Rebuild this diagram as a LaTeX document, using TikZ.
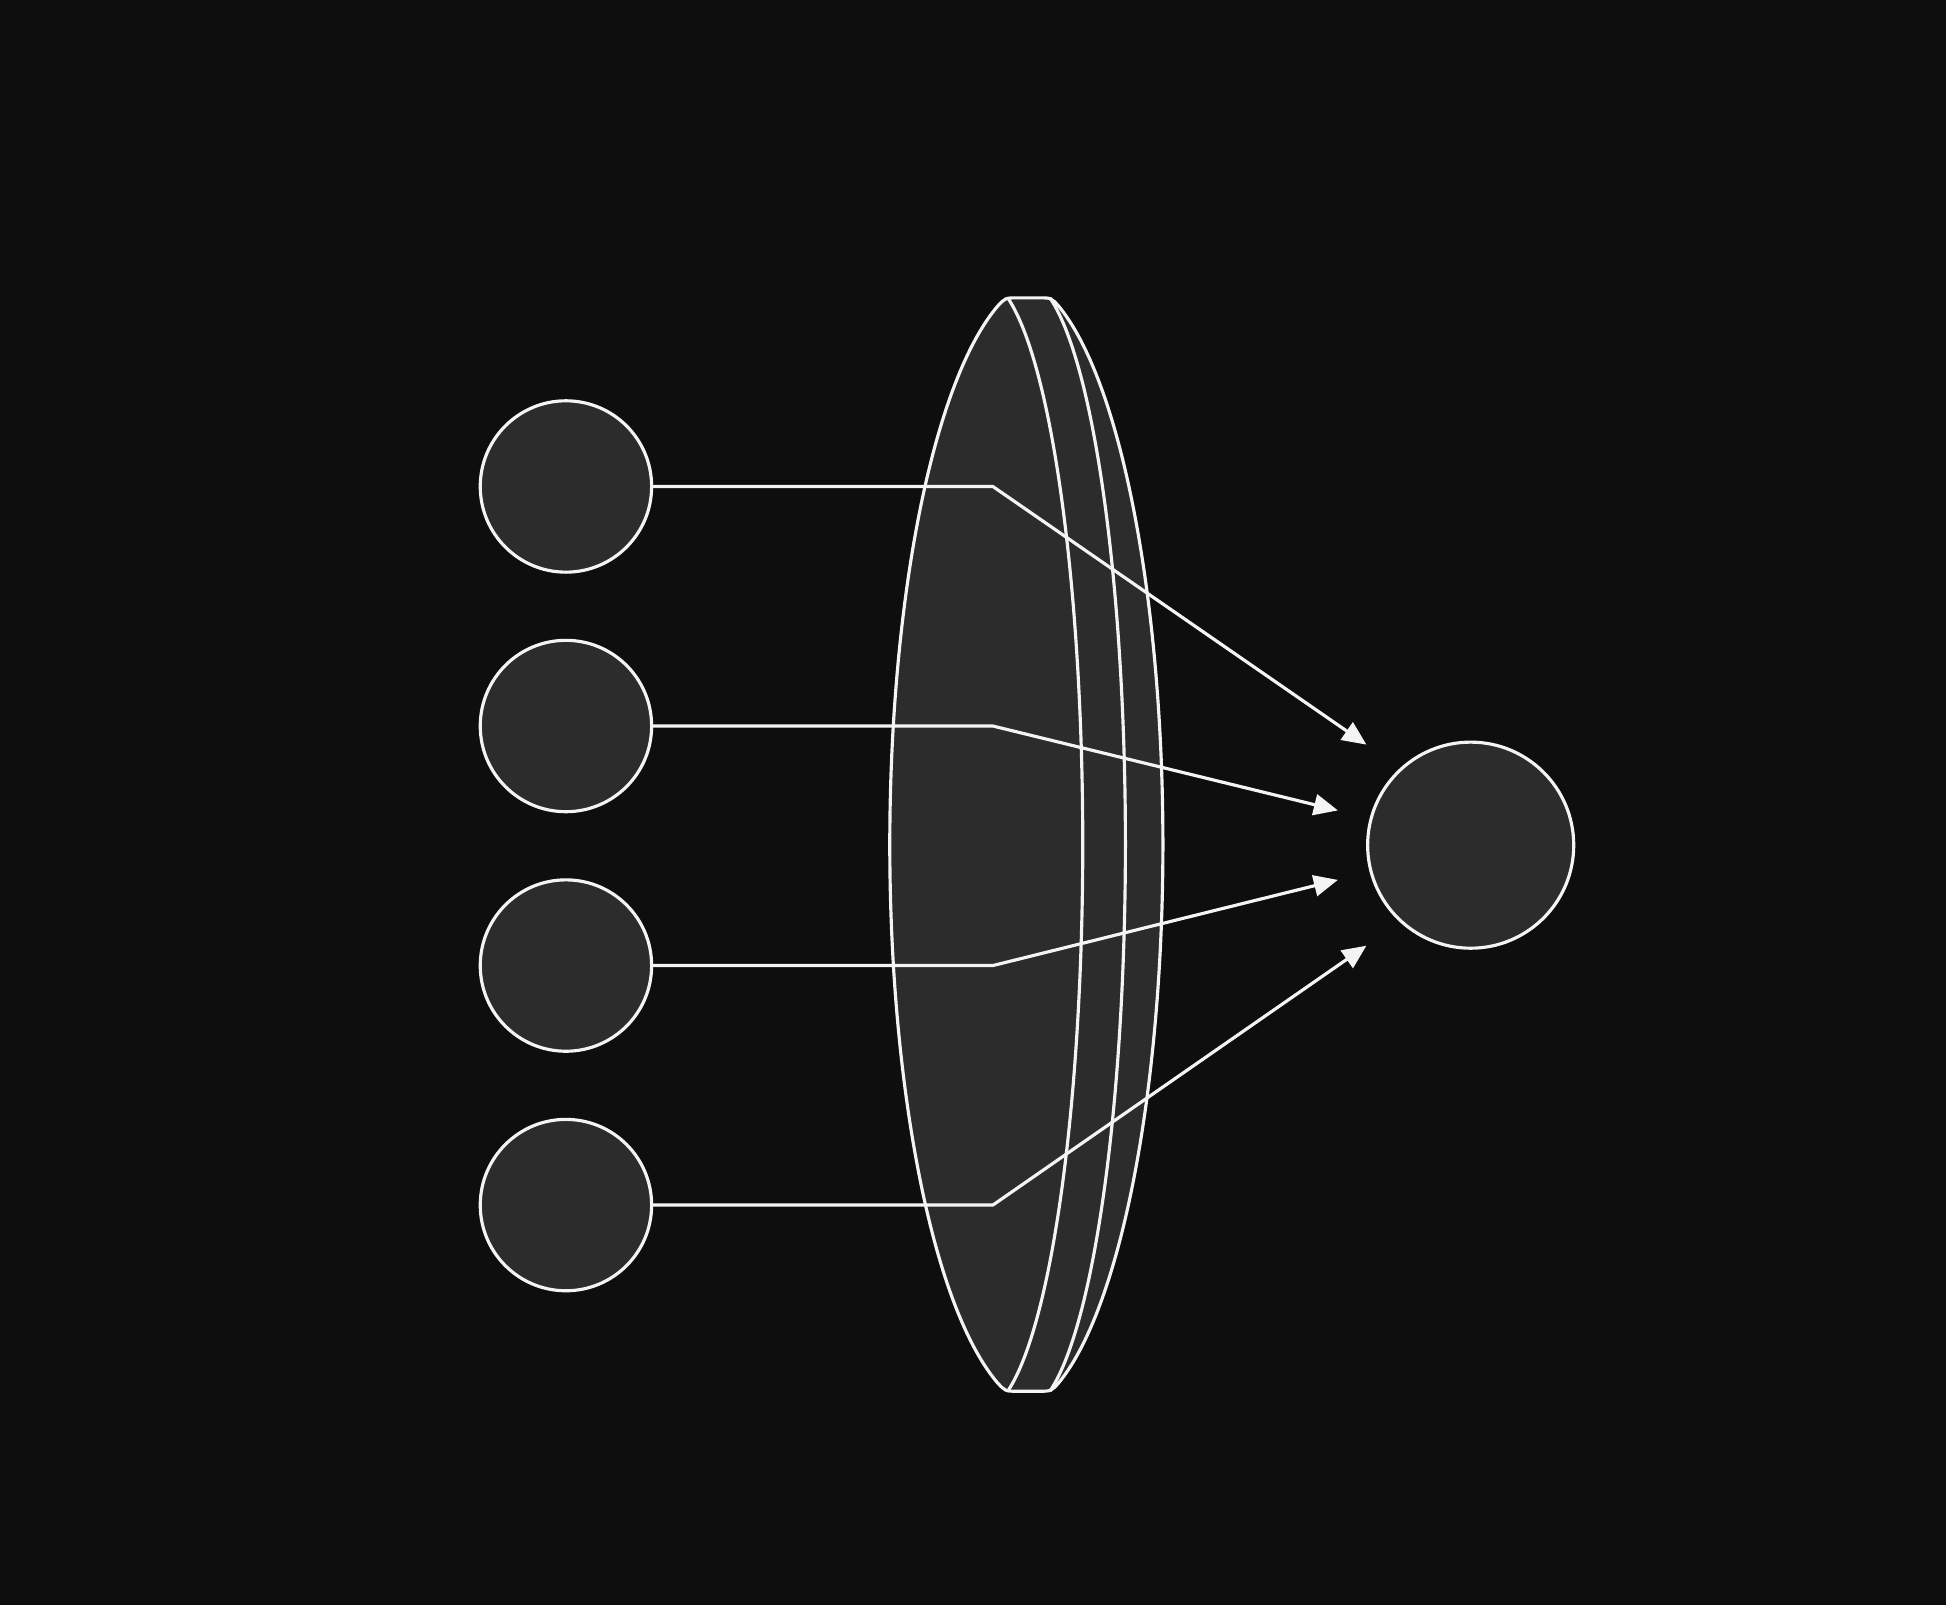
\documentclass[tikz,border=0pt]{standalone}
\usepackage{xcolor}
\usepackage{tikz}
\usetikzlibrary{arrows.meta}

\definecolor{bgdark}{HTML}{0E0E0E}
\definecolor{cellgray}{HTML}{2C2C2C}
\definecolor{edgewhite}{HTML}{F4F4F4}

\begin{document}
\begin{tikzpicture}[x=0.012411cm,y=0.012411cm,
		line width=0.9pt, line join=round,
		neuron/.style={circle, draw=edgewhite, fill=cellgray, line width=0.9pt, inner sep=0pt, minimum size=1.713cm},
		outneuron/.style={neuron, minimum size=2.06cm},
		wire/.style={draw=edgewhite, line width=0.9pt},
		weight/.style={wire, -{Triangle[length=2.4mm,width=2.1mm]}}
	]
	\fill[bgdark] (0,0) rectangle (1568,1293);
	\useasboundingbox (0,0) rectangle (1568,1293);
	
	% lens
	\filldraw[fill=cellgray, draw=edgewhite] (820,1053) -- (837,1053) .. controls (847,1053) .. (853.1,1046.2) arc[start angle=72, end angle=-72, x radius=121.4, y radius=456] .. controls (847,172) .. (837,172) -- (820,172) .. controls (810,172) .. (803.7,178.8) arc[start angle=252, end angle=108, x radius=125.5, y radius=456] .. controls (810,1053) .. (820,1053) -- cycle;
	\draw[edgewhite] (812,1053) arc[start angle=75, end angle=-75, x radius=81.5, y radius=456];
	\draw[edgewhite] (846,1053) arc[start angle=75, end angle=-75, x radius=82, y radius=456];
	
	\node[neuron] (in1) at (456,901) {};
	\node[neuron] (in2) at (456,708) {};
	\node[neuron] (in3) at (456,515) {};
	\node[neuron] (in4) at (456,322) {};
	
	\node[outneuron] (out) at (1185,612) {};
	
	\coordinate (k1) at (800,901);
	\coordinate (k2) at (800,708);
	\coordinate (k3) at (800,515);
	\coordinate (k4) at (800,322);
	
	\coordinate (t1) at (1101,693);
	\coordinate (t2) at (1078,640);
	\coordinate (t3) at (1078,584);
	\coordinate (t4) at (1101,531);
	
	\draw[weight] (in1.east) -- (k1) -- (t1);
	\draw[weight] (in2.east) -- (k2) -- (t2);
	\draw[weight] (in3.east) -- (k3) -- (t3);
	\draw[weight] (in4.east) -- (k4) -- (t4);
\end{tikzpicture}
\end{document}
